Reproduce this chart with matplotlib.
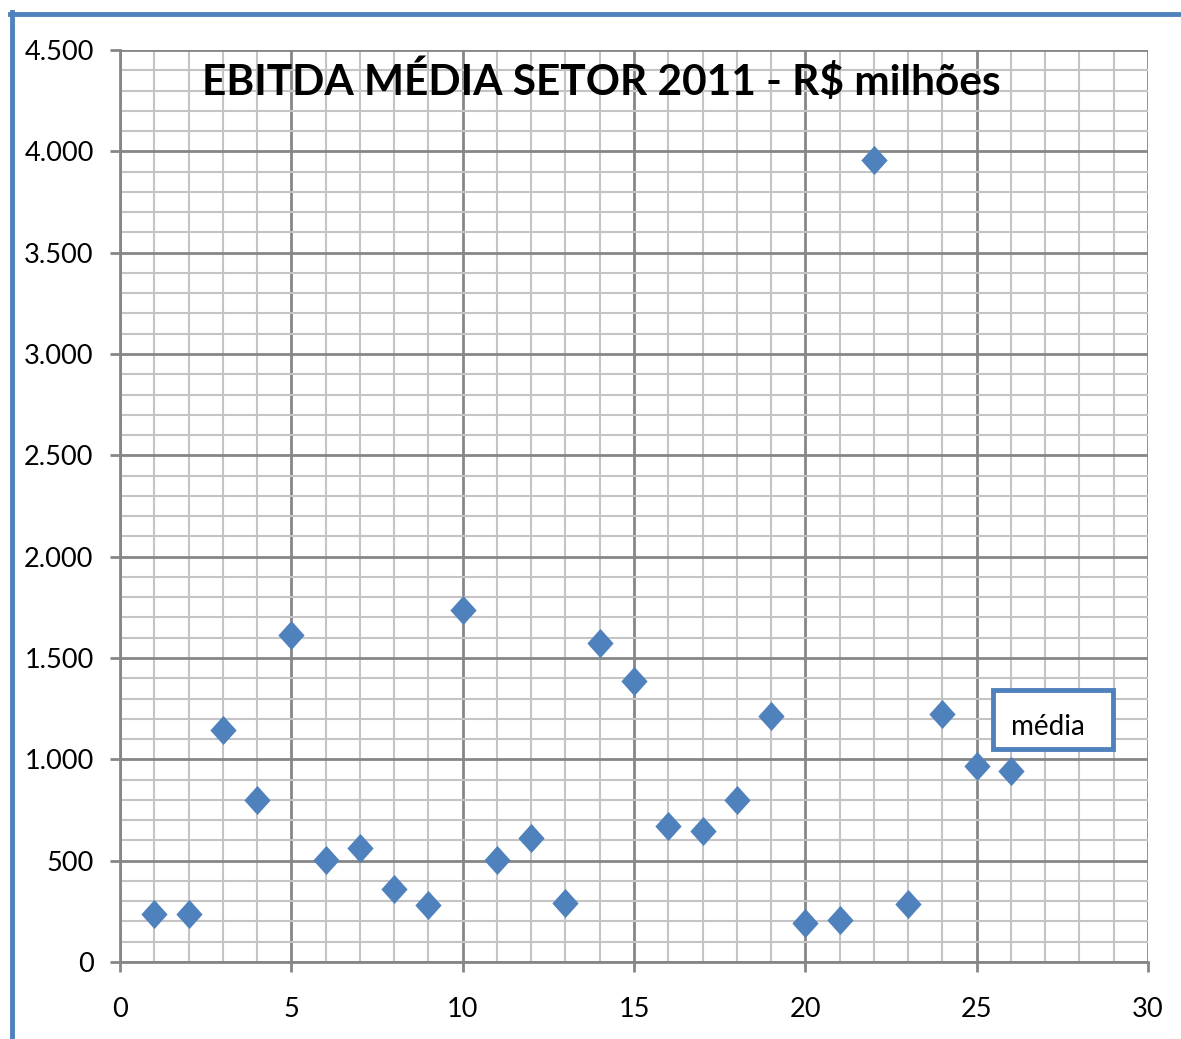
import numpy as np
import matplotlib.pyplot as plt
from matplotlib.ticker import MultipleLocator, FuncFormatter
from matplotlib.lines import Line2D
from matplotlib.patches import FancyBboxPatch

# empresas do setor (1..26) e EBITDA médio 2011 em R$ milhões
empresas = list(range(1, 27))
ebitda = [237, 237, 1145, 799, 1613, 503, 562, 360, 281, 1737,
          503, 612, 291, 1574, 1386, 671, 646, 799, 1214, 192,
          207, 3957, 286, 1224, 967, 942]

titulo = 'EBITDA MÉDIA SETOR 2011 - R$ milhões'
rotulo_caixa = 'média'

plt.rcParams['font.family'] = ['Lato', 'DejaVu Sans']

azul = '#4F81BD'

fig = plt.figure(figsize=(11.81, 10.39), dpi=100)
ax = fig.add_axes([120/1181, 1 - 962/1039, 1028/1181, 912/1039])

# marcador losango um pouco mais alto que largo
losango = [(0, 1), (0.9, 0), (0, -1), (-0.9, 0), (0, 1)]
ax.plot(empresas, ebitda, linestyle='none', marker=losango, markersize=21,
        color=azul, markeredgewidth=0, zorder=3)

ax.set_xlim(0, 30)
ax.set_ylim(0, 4500)
ax.xaxis.set_major_locator(MultipleLocator(5))
ax.xaxis.set_minor_locator(MultipleLocator(1))
ax.yaxis.set_major_locator(MultipleLocator(500))
ax.yaxis.set_minor_locator(MultipleLocator(100))
ax.yaxis.set_major_formatter(FuncFormatter(lambda v, p: f'{int(v):,}'.replace(',', '.')))

ax.grid(which='major', color='#868686', linewidth=2)
ax.grid(which='minor', color='#C4C4C4', linewidth=1.5)
ax.set_axisbelow(True)
for s in ['top', 'right']:
    ax.spines[s].set_visible(False)
for s in ['left', 'bottom']:
    ax.spines[s].set_color('#868686')
    ax.spines[s].set_linewidth(2)
ax.tick_params(which='major', length=7, width=2, color='#868686',
               labelsize=19.5, pad=12)
ax.tick_params(which='minor', length=0)
ax.tick_params(axis='x', pad=18)

fig.text(601/1181, 1 - 80/1039, titulo, fontsize=30.5, fontweight='bold',
         ha='center', va='center')

# caixa de texto "média"
caixa = FancyBboxPatch((993/1181, 1 - 749/1039), 120/1181, 59/1039,
                       boxstyle='square,pad=0', transform=fig.transFigure,
                       facecolor='white', edgecolor=azul, linewidth=3.5, zorder=5)
fig.patches.append(caixa)
fig.text(1048/1181, 1 - 727/1039, rotulo_caixa, fontsize=20,
         ha='center', va='center', zorder=6)

# moldura azul do gráfico (esquerda e topo)
fig.add_artist(Line2D([12/1181, 12/1181], [0, 1 - 12/1039], color=azul,
                      linewidth=3.5, transform=fig.transFigure))
fig.add_artist(Line2D([10/1181, 1], [1 - 14/1039, 1 - 14/1039], color=azul,
                      linewidth=3.5, transform=fig.transFigure))

fig.savefig('out.png', dpi=100)
